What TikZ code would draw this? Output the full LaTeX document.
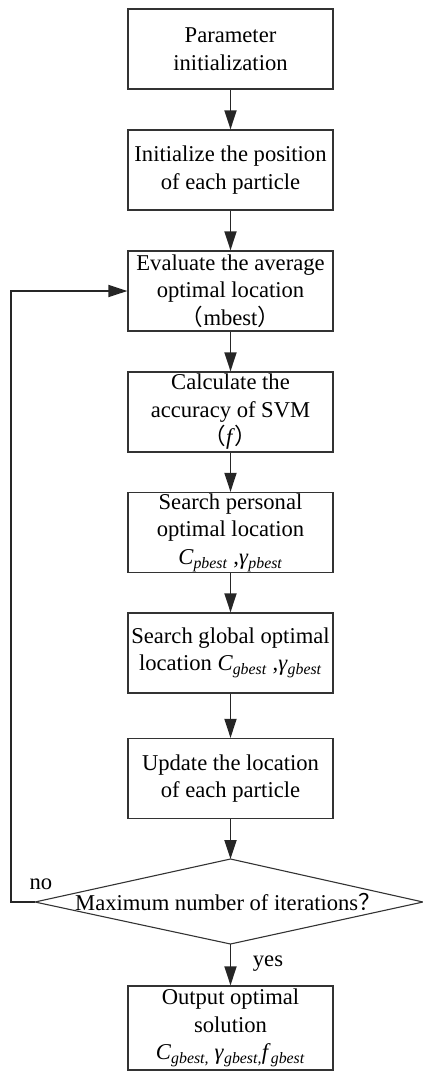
\documentclass[tikz,border=0pt]{standalone}
\usepackage{fontspec}
\setmainfont{Liberation Serif}
\newfontfamily\cjk{Noto Sans CJK SC}
\usetikzlibrary{arrows.meta}
\begin{document}
\begin{tikzpicture}[x=1pt,y=-1pt,
  stepbox/.style={draw=black!80, line width=1.2pt, minimum width=205pt, minimum height=80pt,
    align=center, inner sep=0pt, fill=white, font=\fontsize{22.6}{27.5}\selectfont},
  flow/.style={line width=1.8pt, black!85, -{Triangle[length=19pt,width=12pt]}},
  lbl/.style={font=\fontsize{22.6}{28}\selectfont, inner sep=0pt}]
\useasboundingbox (0,0) rectangle (423,1071);
\node[stepbox] (b1) at (230.5,49) {Parameter\\initialization};
\node[stepbox] (b2) at (230.5,170) {Initialize the position\\of each particle};
\node[stepbox] (b3) at (230.5,291) {Evaluate the average\\optimal location\\{\cjk （}mbest{\cjk ）}};
\node[stepbox] (b4) at (230.5,412) {Calculate the\\accuracy of SVM\\{\cjk （}\textit{f}{\cjk ）}};
\node[stepbox] (b5) at (230.5,532.5) {Search personal\\optimal location\\\textit{C}\textsubscript{\textit{pbest}} ,\textit{γ}\textsubscript{\textit{pbest}}};
\node[stepbox] (b6) at (230.5,653) {Search global optimal\\location \textit{C}\textsubscript{\textit{gbest}} ,\textit{γ}\textsubscript{\textit{gbest}}};
\node[stepbox] (b7) at (230.5,778.5) {Update the location\\of each particle};
\node[stepbox, minimum height=84pt] (b8) at (230.5,1028) {Output optimal\\solution\\\textit{C}\textsubscript{\textit{gbest,}} \textit{γ}\textsubscript{\textit{gbest,}}\textit{f}\textsubscript{\textit{gbest}}};
% decision diamond
\coordinate (dt) at (230.5,859);
\coordinate (db) at (230.5,944);
\coordinate (dl) at (35,902);
\coordinate (dr) at (423,902);
\draw[black!80, line width=1.1pt] (dt) -- (dr) -- (db) -- (dl) -- cycle;
\node[lbl] (dtext) at (228,902) {Maximum number of iterations{\cjk ？}};
\coordinate (lp) at (11,902);
% connectors
\draw[flow] (b1) -- (b2);
\draw[flow] (b2) -- (b3);
\draw[flow] (b3) -- (b4);
\draw[flow] (b4) -- (b5);
\draw[flow] (b5) -- (b6);
\draw[flow] (b6) -- (b7);
\draw[flow] (b7) -- (dt);
\draw[flow] (db) -- (b8);
\draw[flow] (dl) -- (lp) |- (b3.west);
\node[lbl] (no) at (41,884) {no};
\node[lbl] (yes) at (268,964) {yes};
\end{tikzpicture}
\end{document}
